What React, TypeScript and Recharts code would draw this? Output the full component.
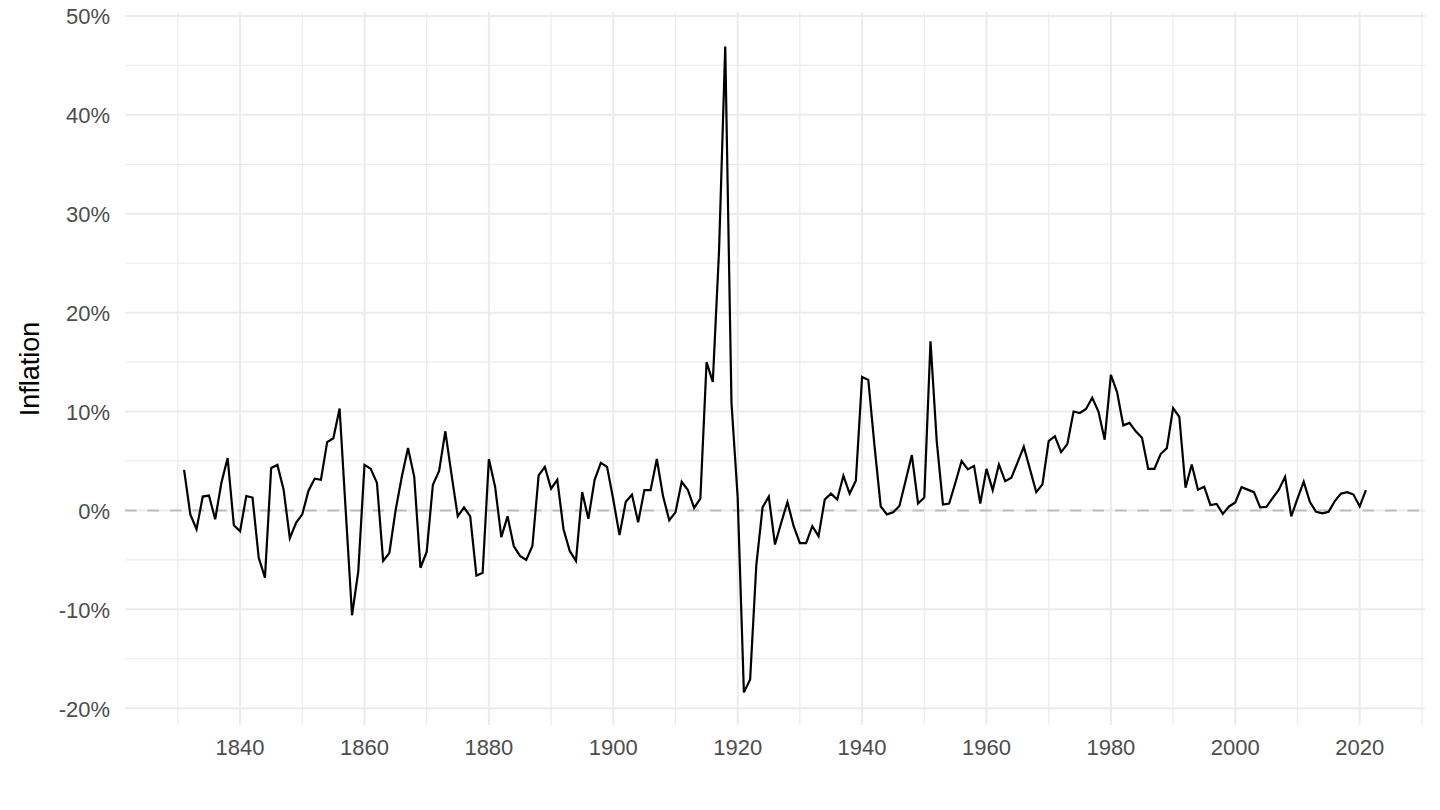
import React from "react";
import {
  LineChart,
  Line,
  XAxis,
  YAxis,
  CartesianGrid,
  ReferenceLine,
} from "recharts";

const FIRST_YEAR = 1831;

// annual inflation in %, 1831 -> 2021
const inflation = [
  4.1, -0.4, -1.9, 1.4, 1.5, -0.9, 2.8, 5.3, -1.5, -2.1,
  1.45, 1.3, -4.8, -6.8, 4.3, 4.6, 2.1, -2.8, -1.25, -0.4,
  2.0, 3.2, 3.1, 6.9, 7.3, 10.3, -0.2, -10.6, -6.2, 4.6,
  4.2, 2.8, -5.1, -4.3, 0.0, 3.4, 6.3, 3.4, -5.8, -4.2,
  2.6, 4.0, 8.0, 3.6, -0.6, 0.3, -0.6, -6.6, -6.3, 5.2,
  2.4, -2.7, -0.6, -3.6, -4.6, -5.0, -3.6, 3.55, 4.4, 2.2,
  3.1, -1.9, -4.1, -5.1, 1.85, -0.85, 3.1, 4.8, 4.4, 1.1,
  -2.5, 0.85, 1.6, -1.2, 2.05, 2.05, 5.2, 1.45, -1.0, -0.2,
  2.9, 2.05, 0.25, 1.2, 15.0, 13.0, 26.2, 46.9, 10.9, 1.3,
  -18.4, -17.1, -5.5, 0.3, 1.4, -3.45, -1.25, 0.85, -1.6, -3.3,
  -3.3, -1.6, -2.6, 1.1, 1.7, 1.1, 3.5, 1.7, 3.0, 13.5,
  13.2, 6.5, 0.4, -0.4, -0.2, 0.45, 3.0, 5.6, 0.7, 1.3,
  17.1, 7.0, 0.6, 0.7, 2.8, 5.0, 4.15, 4.5, 0.7, 4.2,
  2.05, 4.65, 2.95, 3.3, 4.85, 6.45, 4.15, 1.85, 2.65, 7.0,
  7.5, 5.9, 6.7, 10.0, 9.85, 10.25, 11.4, 10.0, 7.15, 13.7,
  11.95, 8.6, 8.85, 8.0, 7.35, 4.2, 4.2, 5.7, 6.3, 10.35,
  9.45, 2.3, 4.65, 2.1, 2.4, 0.55, 0.65, -0.35, 0.4, 0.8,
  2.35, 2.1, 1.85, 0.3, 0.35, 1.25, 2.1, 3.4, -0.6, 1.2,
  2.9, 0.85, -0.15, -0.3, -0.15, 0.95, 1.7, 1.85, 1.6, 0.4,
  2.05,
];

const xTicks = [1840, 1860, 1880, 1900, 1920, 1940, 1960, 1980, 2000, 2020];
const xMinor = [1830, 1850, 1870, 1890, 1910, 1930, 1950, 1970, 1990, 2010, 2030];
const yTicks = [-20, -10, 0, 10, 20, 30, 40, 50];
const yMinor = [-15, -5, 5, 15, 25, 35, 45];

const data = inflation.map((v, i) => ({ year: FIRST_YEAR + i, value: v }));

const FONT = '"Liberation Sans", Arial, Helvetica, sans-serif';
const TICK_COLOR = "#4D4D4D";

const XTick = ({ x, y, payload }: any) => (
  <text x={x} y={y + 30} textAnchor="middle" fill={TICK_COLOR} fontSize={22} fontFamily={FONT}>
    {payload.value}
  </text>
);

const YTick = ({ x, y, payload }: any) => (
  <text x={x - 15} y={y + 8.5} textAnchor="end" fill={TICK_COLOR} fontSize={22} fontFamily={FONT}>
    {`${payload.value}%`}
  </text>
);

export default function App() {
  return (
    <div style={{ position: "absolute", left: 0, top: 0, width: 1440, height: 810, background: "#fff" }}>
      <LineChart
        width={1440}
        height={810}
        data={data}
        margin={{ top: 12, right: 15, bottom: 0, left: 0 }}
      >
        <CartesianGrid
          stroke="#EBEBEB"
          strokeWidth={1.2}
          horizontalValues={yMinor}
          verticalValues={xMinor}
        />
        <CartesianGrid
          stroke="#EBEBEB"
          strokeWidth={2}
          horizontalValues={yTicks}
          verticalValues={xTicks}
        />
        <XAxis
          dataKey="year"
          type="number"
          domain={[1821.5, 2030.5]}
          ticks={xTicks}
          allowDataOverflow
          axisLine={false}
          tickLine={false}
          tickSize={0}
          tickMargin={0}
          height={85}
          tick={<XTick />}
          interval={0}
        />
        <YAxis
          type="number"
          domain={[-21.7, 50.4]}
          ticks={yTicks}
          allowDataOverflow
          axisLine={false}
          tickLine={false}
          tickSize={0}
          tickMargin={0}
          width={125}
          tick={<YTick />}
          interval={0}
        />
        <ReferenceLine y={0} stroke="#BEBEBE" strokeWidth={2} strokeDasharray="11.5 11" />
        <Line
          type="linear"
          dataKey="value"
          stroke="#000"
          strokeWidth={2.2}
          dot={false}
          activeDot={false}
          isAnimationActive={false}
        />
      </LineChart>
      <div
        style={{
          position: "absolute",
          left: 30,
          top: 369,
          transform: "translate(-50%, -50%) rotate(-90deg)",
          fontFamily: FONT,
          fontSize: 27,
          color: "#000",
          whiteSpace: "nowrap",
        }}
      >
        Inflation
      </div>
    </div>
  );
}
